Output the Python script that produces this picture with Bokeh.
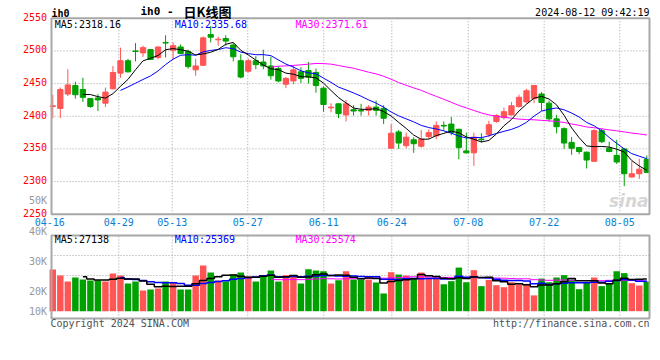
import pandas as pd
from bokeh.plotting import figure
from bokeh.models import ColumnDataSource, Range1d, Label
from bokeh.core.properties import value
from bokeh.embed import file_html
from bokeh.resources import INLINE

# ---------------- data ----------------
opens = [2415, 2412, 2434, 2447, 2441, 2427, 2428, 2420, 2442, 2466,
         2485, 2500, 2497, 2502, 2490, 2513, 2501, 2506, 2499, 2471,
         2478, 2525, 2517, 2519, 2509, 2485, 2469, 2485, 2483, 2477,
         2473, 2449, 2454, 2468, 2470, 2467, 2443, 2413, 2419, 2402,
         2410, 2409, 2409, 2414, 2412, 2351, 2376, 2355, 2364, 2354,
         2369, 2370, 2386, 2388, 2380, 2347, 2344, 2365, 2372, 2392,
         2398, 2402, 2415, 2422, 2427, 2434, 2420, 2396, 2381, 2360,
         2352, 2345, 2331, 2378, 2351, 2340, 2350, 2307, 2312, 2334]
highs = [2433, 2444, 2472, 2453, 2459, 2428, 2434, 2444, 2477, 2505,
         2488, 2512, 2508, 2503, 2507, 2524, 2513, 2510, 2502, 2488,
         2522, 2538, 2522, 2524, 2512, 2495, 2488, 2492, 2502, 2491,
         2477, 2460, 2478, 2475, 2483, 2473, 2446, 2420, 2420, 2425,
         2417, 2419, 2417, 2424, 2417, 2388, 2379, 2375, 2368, 2379,
         2380, 2392, 2392, 2399, 2381, 2375, 2375, 2374, 2393, 2403,
         2413, 2422, 2433, 2442, 2448, 2437, 2424, 2402, 2383, 2368,
         2353, 2346, 2380, 2381, 2361, 2364, 2351, 2331, 2335, 2340]
lows = [2397, 2397, 2431, 2427, 2422, 2413, 2408, 2414, 2441, 2459,
        2467, 2484, 2491, 2486, 2487, 2490, 2487, 2495, 2473, 2462,
        2477, 2513, 2508, 2508, 2484, 2458, 2467, 2472, 2472, 2456,
        2452, 2443, 2449, 2451, 2450, 2436, 2407, 2406, 2397, 2392,
        2401, 2401, 2401, 2401, 2388, 2350, 2350, 2351, 2344, 2352,
        2365, 2365, 2378, 2371, 2334, 2343, 2324, 2360, 2368, 2390,
        2395, 2401, 2413, 2420, 2420, 2408, 2392, 2374, 2350, 2341,
        2342, 2320, 2330, 2359, 2345, 2327, 2293, 2306, 2304, 2313]
closes = [2416, 2441, 2448, 2433, 2429, 2415, 2425, 2437, 2467, 2485,
          2468, 2499, 2505, 2487, 2506, 2512, 2508, 2496, 2476, 2477,
          2520, 2521, 2518, 2515, 2491, 2460, 2485, 2479, 2477, 2462,
          2454, 2458, 2471, 2458, 2460, 2447, 2418, 2414, 2404, 2419,
          2408, 2408, 2414, 2409, 2397, 2374, 2359, 2368, 2358, 2365,
          2375, 2386, 2385, 2375, 2352, 2344, 2368, 2364, 2387, 2401,
          2407, 2416, 2429, 2439, 2447, 2421, 2396, 2384, 2359, 2351,
          2346, 2333, 2378, 2361, 2346, 2330, 2312, 2312, 2319, 2314]
volumes = [35300, 30200, 25100, 28500, 26800, 25900, 25900, 25100, 31900, 30200,
           23400, 25100, 17500, 18300, 19200, 25100, 24300, 18300, 18300, 30200,
           38600, 32700, 25900, 25100, 31000, 32700, 29300, 25100, 30200, 34400,
           25100, 30500, 30500, 23400, 35500, 34400, 33800, 23400, 26200, 33800,
           26800, 26800, 26800, 24300, 15000, 33000, 31000, 30200, 27900, 32700,
           28200, 28200, 22800, 25400, 36900, 24500, 34700, 21200, 26500, 22000,
           20300, 24500, 22800, 22600, 13300, 27600, 24500, 28500, 30500, 26800,
           18600, 24500, 28500, 21200, 23400, 33800, 32200, 23700, 21700, 25100]

date_labels = ["04-16", "04-29", "05-13", "05-27", "06-11", "06-24", "07-08", "07-22", "08-05"]
price_ticks = [2250, 2300, 2350, 2400, 2450, 2500, 2550]
price_grid = [2300, 2350, 2400, 2450, 2500]
vol_axis_labels = ["50K", "40K", "30K", "20K", "10K"]

main_ma_text = ["MA5:2318.16", "MA10:2335.68", "MA30:2371.61"]
vol_ma_text = ["MA5:27138", "MA10:25369", "MA30:25574"]

# ---------------- layout (pixels of the 660x360 picture) ----------------
W, H = 660, 360
X0, DX = 52.3, 7.519          # pixel of first candle, pixels per candle
PY0, PK = 213.75, 196 / 300   # pixel of 2250, pixels per price point
VY0, VK = 310.7, 846.0        # pixel of zero volume, volume units per pixel
FL, FR = 51, 649              # panel left / right edges
date_tick_pos = [-0.41, 8.78, 15.88, 25.93, 36.04, 45.09, 55.25, 65.35, 75.41]
vol_grid_px = [255, 275, 295.3]
vol_label_px = [200.3, 230.7, 260.7, 290.7, 310.7]

def px2x(px):
    return (px - X0) / DX

def py2price(py):
    return 2250 + (PY0 - py) / PK

def py2vol(py):
    return (VY0 - py) * VK

RED = "#FF5555"
GREEN = "#00A000"
GRID = "#A0A0A0"
FRAME = "#A8A8A8"
MONO = "DejaVu Sans Mono"

# ---------------- derived ----------------
n = len(closes)
xs = list(range(n))
cols = [RED if c >= o else GREEN for o, c in zip(opens, closes)]
cl = pd.Series(closes, dtype=float)
vl = pd.Series(volumes, dtype=float)
ma5, ma10, ma30 = (cl.rolling(k).mean() for k in (5, 10, 30))
vma5, vma10, vma30 = (vl.rolling(k).mean() for k in (5, 10, 30))

src = ColumnDataSource(dict(
    x=xs, o=opens, h=highs, l=lows, c=closes, vol=volumes, col=cols,
    btop=[max(o, c) for o, c in zip(opens, closes)],
    bbot=[min(o, c) for o, c in zip(opens, closes)]))

p = figure(width=W, height=H, output_backend="svg", toolbar_location=None,
           x_range=Range1d(px2x(0), px2x(W)), y_range=Range1d(py2price(H), py2price(0)),
           x_axis_location=None, y_axis_location=None,
           min_border=0, min_border_left=0, min_border_right=0,
           min_border_top=0, min_border_bottom=0)
p.extra_y_ranges = {"vol": Range1d(py2vol(H), py2vol(0))}
p.outline_line_color = None
p.background_fill_color = "white"
p.border_fill_color = "white"
for g in p.grid:
    g.visible = False

gx0, gx1 = px2x(FL), px2x(FR)
vtop, vbot = py2vol(235), py2vol(318)

# grid lines
p.segment(x0=gx0, y0=price_grid, x1=gx1, y1=price_grid, line_color=GRID, line_dash="1 2")
p.segment(x0=date_tick_pos[1:], y0=2250, x1=date_tick_pos[1:], y1=2550,
          line_color=GRID, line_dash="1 2")
vgrid = [py2vol(v) for v in vol_grid_px]
p.segment(x0=gx0, y0=vgrid, x1=gx1, y1=vgrid, line_color=GRID, line_dash="1 2",
          y_range_name="vol")
p.segment(x0=date_tick_pos[1:], y0=vbot, x1=date_tick_pos[1:], y1=vtop,
          line_color=GRID, line_dash="1 2", y_range_name="vol")

# watermark (under the candles)
p.add_layout(Label(x=FR - 1, y=H - 200, x_units="screen", y_units="screen", text="sina",
                   text_color="#D6D6D6", text_font="DejaVu Sans", text_font_size="17px",
                   text_font_style="bold italic", text_align="right", text_baseline="middle",
                   level="underlay"))

# candles
p.segment(x0="x", y0="l", x1="x", y1="h", line_color="col", line_width=1, source=src)
p.vbar(x="x", width=0.7, top="btop", bottom="bbot", fill_color="col", line_color="col",
       line_width=1, source=src)
p.line(xs, ma30.values, line_color="#FF00FF", line_width=1)
p.line(xs, ma10.values, line_color="#0000FF", line_width=1)
p.line(xs, ma5.values, line_color="#000000", line_width=1)

# volume
p.vbar(x="x", width=0.86, top="vol", bottom=0, fill_color="col", line_color=None,
       source=src, y_range_name="vol")
p.step(xs, vma30.values, mode="center", line_color="#FF00FF", line_width=1, y_range_name="vol")
p.step(xs, vma10.values, mode="center", line_color="#0000FF", line_width=1.5, y_range_name="vol")
p.step(xs, vma5.values, mode="center", line_color="#000000", line_width=1.5, y_range_name="vol")

# panel frames
p.quad(left=[gx0], right=[gx1], top=[2550], bottom=[2250], fill_color=None,
       line_color=FRAME, line_width=2)
p.quad(left=[gx0], right=[gx1], top=[vtop], bottom=[vbot], fill_color=None,
       line_color=FRAME, line_width=2, y_range_name="vol")

# axis tick labels (through the scales)
p.text(x=px2x(46.5), y=price_ticks, text=[str(t) for t in price_ticks], y_offset=-1.5,
       text_font=value(MONO), text_font_size="10px", text_color="#FF0000",
       text_align="right", text_baseline="middle")
p.text(x=date_tick_pos, y=py2price(221.5), text=date_labels,
       text_font=value(MONO), text_font_size="10px", text_color="#0A7FD4",
       text_align="center", text_baseline="middle")

def lab(px, py, text, color="#000000", size="10px", font=MONO, align="left", style="normal"):
    p.add_layout(Label(x=px, y=H - py, x_units="screen", y_units="screen", text=text,
                       text_color=color, text_font=font, text_font_size=size,
                       text_align=align, text_baseline="middle", text_font_style=style))

for py, t in zip(vol_label_px, vol_axis_labels):
    lab(46.5, py, t, color="#999999", align="right")

lab(51, 13, "ih0", style="bold")
lab(140, 11, "ih0 -", size="11px", style="bold")
lab(183, 11, "日K线图", font="Noto Sans CJK SC", size="13px", style="bold")
lab(649, 12, "2024-08-12 09:42:19", align="right")
for xo, t, c in zip([54.3, 174.3, 295], main_ma_text, ["#000000", "#0000FF", "#FF00FF"]):
    lab(xo, 24, t, color=c)
for xo, t, c in zip([54.3, 174.3, 295], vol_ma_text, ["#000000", "#0000FF", "#FF00FF"]):
    lab(xo, 238.5, t, color=c)
lab(50, 323, "Copyright 2024 SINA.COM", color="#505050")
lab(649, 323, "http://finance.sina.com.cn", color="#505050", align="right")

open("out.html", "w").write(file_html(p, INLINE))
